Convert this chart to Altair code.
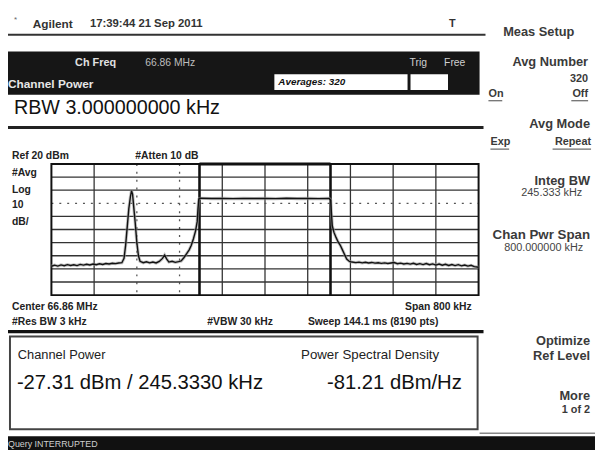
import altair as alt
import pandas as pd

# ---------------- data ----------------
FREQ_KHZ = [-400, -394, -388, -382, -376, -370, -364, -358, -352, -346, -340, -334, -328, -322,
            -316, -310, -304, -298, -292, -286, -280, -274, -268,
            -264, -261, -258, -255, -252, -250, -248, -246, -243, -240, -237, -234,
            -228, -222, -216, -210, -204, -198, -192, -188, -184, -180, -174, -168, -162, -157,
            -152, -147, -142, -138, -134, -130, -127, -125.5, -124, -123,
            -120, -100, -80, -60, -40, -20, 0, 20, 40, 60, 80, 100, 120, 123,
            124.5, 126, 129, 133, 137, 141, 145, 149, 153, 158, 163,
            170, 176, 182, 188, 194, 200, 206, 212, 218, 224, 230, 236, 242, 248, 254, 260,
            266, 272, 278, 284, 290, 296, 302, 308, 314, 320, 326, 332, 338, 344, 350, 356,
            362, 368, 374, 380, 386, 392, 400]
LEVEL_DBM = [-58.0, -57.2, -57.9, -57.0, -57.6, -56.8, -57.4, -56.9, -57.5, -56.6, -57.1, -56.5, -57.0, -56.3,
             -56.8, -56.1, -56.6, -55.9, -56.3, -55.7, -56.0, -55.5, -55.3,
             -52.0, -42.0, -28.0, -14.0, -5.0, -0.5, -3.0, -12.0, -25.0, -40.0, -50.0, -54.2,
             -55.3, -54.6, -55.4, -54.8, -55.5, -54.3, -52.0, -49.5, -52.5, -54.8, -54.2, -55.0, -54.5, -54.0,
             -51.5, -48.5, -45.5, -42.0, -37.0, -31.0, -24.0, -14.0, -7.0, -6.3,
             -6.2, -6.4, -6.3, -6.5, -6.3, -6.4, -6.3, -6.5, -6.2, -6.4, -6.3, -6.5, -6.3, -7.5,
             -18.0, -27.0, -32.0, -36.0, -39.5, -42.0, -45.5, -49.0, -52.5, -54.3, -54.8,
             -55.2, -54.9, -55.4, -55.0, -55.5, -55.1, -55.6, -55.3, -55.8, -55.4, -55.9, -55.5, -55.2, -56.1, -55.6, -56.3,
             -55.8, -56.4, -55.7, -56.6, -56.0, -56.7, -55.9, -56.8, -56.2, -57.1, -56.3, -57.2, -56.5, -57.4, -56.7, -57.5,
             -56.8, -57.7, -57.1, -57.9, -57.3, -58.3, -58.8]

SPAN_KHZ = [-400, 400]
DB_RANGE = [-80, 20]
GRID_F_SOLID = [-320, -80, 0, 80, 160, 240, 320]
GRID_F_DOTTED = [-240, -160]
GRID_DB_SOLID = [10, 0, -20, -30, -40, -50, -60, -70]
GRID_DB_DOTTED = [-10]
CHANNEL_EDGES_KHZ = [-122.67, 122.67]

HEADER = ["Agilent", "17:39:44 21 Sep 2011", "T"]
BAR_TEXT = ["Ch Freq", "66.86 MHz", "Trig", "Free", "Channel Power", "Averages: 320"]
RBW_TEXT = "RBW 3.000000000 kHz"
PLOT_LEFT_TEXT = ["Ref 20 dBm", "#Atten 10 dB", "#Avg", "Log", "10", "dB/"]
PLOT_BOTTOM_TEXT = ["Center 66.86 MHz", "Span 800 kHz", "#Res BW 3 kHz", "#VBW 30 kHz",
                    "Sweep 144.1 ms (8190 pts)"]
RESULT_TEXT = ["Channel Power", "Power Spectral Density", "-27.31 dBm / 245.3330 kHz", "-81.21 dBm/Hz"]
SOFTKEYS = ["Meas Setup", "Avg Number", "320", "On", "Off", "Avg Mode", "Exp", "Repeat",
            "Integ BW", "245.333 kHz", "Chan Pwr Span", "800.000000 kHz",
            "Optimize", "Ref Level", "More", "1 of 2"]
STATUS = "Query INTERRUPTED"

# ---------------- helpers ----------------
OFF = 8
FONT = "Liberation Sans"
one = pd.DataFrame({"k": [0]})


def P(v):
    return max(0, v - OFF)


def txt(s, x, y, size=11, weight="normal", align="left", color="#1e1e1e", style="normal"):
    return alt.Chart(one).mark_text(
        text=s, align=align, baseline="middle", fontSize=size, fontWeight=weight,
        fontStyle=style, font=FONT, color=color
    ).encode(x=alt.value(P(x)), y=alt.value(P(y)))


def box(x1, x2, y1, y2, fill="black", stroke=None, sw=0, opacity=1):
    kw = dict(fill=fill, fillOpacity=opacity)
    if stroke:
        kw.update(stroke=stroke, strokeWidth=sw)
    return alt.Chart(one).mark_rect(**kw).encode(
        x=alt.value(P(x1)), x2=alt.value(P(x2)), y=alt.value(P(y1)), y2=alt.value(P(y2)))


def hline(x1, x2, y, w=1, color="#222"):
    return alt.Chart(one).mark_rule(strokeWidth=w, color=color).encode(
        x=alt.value(P(x1)), x2=alt.value(P(x2)), y=alt.value(P(y)))


xs = alt.Scale(domain=SPAN_KHZ, range=[52 - OFF, 485 - OFF], nice=False, zero=False)
ys = alt.Scale(domain=DB_RANGE, range=[296 - OFF, 163 - OFF], nice=False, zero=False)

calc = dict(top=str(DB_RANGE[1]), bot=str(DB_RANGE[0]), lft=str(SPAN_KHZ[0]), rgt=str(SPAN_KHZ[1]))


def vgrid(vals, width, color, dash=None):
    kw = dict(strokeWidth=width, color=color)
    if dash:
        kw["strokeDash"] = dash
    return alt.Chart(pd.DataFrame({"f": vals})).transform_calculate(**calc).mark_rule(**kw).encode(
        x=alt.X("f:Q", scale=xs, axis=None),
        y=alt.Y("top:Q", scale=ys, axis=None), y2="bot:Q")


def hgrid(vals, width, color, dash=None):
    kw = dict(strokeWidth=width, color=color)
    if dash:
        kw["strokeDash"] = dash
    return alt.Chart(pd.DataFrame({"d": vals})).transform_calculate(**calc).mark_rule(**kw).encode(
        y=alt.Y("d:Q", scale=ys, axis=None),
        x=alt.X("lft:Q", scale=xs, axis=None), x2="rgt:Q")


layers = []

# header
layers += [
    txt("*", 14, 17, size=8, color="#666"),
    txt(HEADER[0], 33, 21, size=12, weight="bold", color="#333"),
    txt(HEADER[1], 91, 21, size=11.5, weight="bold", color="#333"),
    txt(HEADER[2], 455, 21, size=11, weight="bold", color="#333"),
    hline(5, 492, 32, 2, "#333"),
]

# black status bar
layers += [
    box(7, 486, 49, 93, fill="#161616"),
    box(278, 413, 72, 88, fill="white"),
    box(416, 454, 72, 88, fill="white"),
    txt(BAR_TEXT[0], 76, 61, size=11, weight="bold", color="#e0e0e0"),
    txt(BAR_TEXT[1], 147, 61, size=10.5, color="#bdbdbd"),
    txt(BAR_TEXT[2], 415, 61, size=10.5, color="#cfcfcf"),
    txt(BAR_TEXT[3], 450, 61, size=10.5, color="#cfcfcf"),
    txt(BAR_TEXT[4], 8, 82, size=12, weight="bold", color="#e6e6e6"),
    txt(BAR_TEXT[5], 282, 80, size=10, weight="bold", style="italic", color="#111"),
]

# RBW line
layers += [
    txt(RBW_TEXT, 14, 106, size=20, color="#111"),
    hline(5, 490, 126, 3, "#222"),
]

# plot grid, frame, channel box, trace
layers += [
    vgrid(GRID_F_SOLID, 1.3, "#333"),
    vgrid(GRID_F_DOTTED, 1.3, "#555", dash=[2, 6]),
    hgrid(GRID_DB_SOLID, 1.3, "#333"),
    hgrid(GRID_DB_DOTTED, 1.3, "#555", dash=[2, 6]),
    alt.Chart(one).transform_calculate(**calc).mark_rect(
        fillOpacity=0, stroke="#111", strokeWidth=2).encode(
        x=alt.X("lft:Q", scale=xs, axis=None), x2="rgt:Q",
        y=alt.Y("top:Q", scale=ys, axis=None), y2="bot:Q"),
    vgrid(CHANNEL_EDGES_KHZ, 2.6, "#111"),
    alt.Chart(pd.DataFrame({"a": [CHANNEL_EDGES_KHZ[0]], "b": [CHANNEL_EDGES_KHZ[1]]}))
    .transform_calculate(**calc).mark_rule(strokeWidth=3, color="#111").encode(
        x=alt.X("a:Q", scale=xs, axis=None), x2="b:Q",
        y=alt.Y("top:Q", scale=ys, axis=None)),
    alt.Chart(pd.DataFrame({"f": FREQ_KHZ, "dbm": LEVEL_DBM})).mark_line(
        color="#9a9a9a", strokeWidth=3.2, opacity=0.6).encode(
        x=alt.X("f:Q", scale=xs, axis=None), y=alt.Y("dbm:Q", scale=ys, axis=None)),
    alt.Chart(pd.DataFrame({"f": FREQ_KHZ, "dbm": LEVEL_DBM})).mark_line(
        color="#111", strokeWidth=1.4).encode(
        x=alt.X("f:Q", scale=xs, axis=None), y=alt.Y("dbm:Q", scale=ys, axis=None)),
]

# plot labels
lab = dict(size=10.5, weight="bold", color="#222")
layers += [
    txt(PLOT_LEFT_TEXT[0], 12, 155, **lab),
    txt(PLOT_LEFT_TEXT[1], 137, 155, **lab),
    txt(PLOT_LEFT_TEXT[2], 12, 172, **lab),
    txt(PLOT_LEFT_TEXT[3], 12, 189, **lab),
    txt(PLOT_LEFT_TEXT[4], 12, 205, **lab),
    txt(PLOT_LEFT_TEXT[5], 12, 222, **lab),
    txt(PLOT_BOTTOM_TEXT[0], 12, 308, **lab),
    txt(PLOT_BOTTOM_TEXT[1], 478, 308, align="right", size=10.5, weight="bold", color="#222"),
    txt(PLOT_BOTTOM_TEXT[2], 12, 323, **lab),
    txt(PLOT_BOTTOM_TEXT[3], 210, 323, **lab),
    txt(PLOT_BOTTOM_TEXT[4], 312, 323, **lab),
    hline(5, 490, 333, 3.5, "#111"),
]

# result box
layers += [
    box(10, 484, 338, 432, fill="white", stroke="#444", sw=2),
    txt(RESULT_TEXT[0], 18, 357, size=13, color="#222"),
    txt(RESULT_TEXT[1], 305, 357, size=13.5, color="#222"),
    txt(RESULT_TEXT[2], 17, 385, size=20.5, color="#111"),
    txt(RESULT_TEXT[3], 468, 385, size=20.5, align="right", color="#111"),
    hline(486, 603, 436, 1.5, "#888"),
    box(0, 603, 439, 453, fill="#111"),
    txt(STATUS, 5, 447, size=9, color="#cfcfcf"),
]

# softkeys
SKC = "#3a3a3a"
sk = dict(size=13, weight="bold", color=SKC, align="right")
sm = dict(size=11, weight="bold", color=SKC, align="right")
layers += [
    txt(SOFTKEYS[0], 546, 29, size=13, weight="bold", color=SKC, align="center"),
    txt(SOFTKEYS[1], 596, 60, **sk),
    txt(SOFTKEYS[2], 596, 77, **sm),
    txt(SOFTKEYS[3], 495, 92, size=11, weight="bold", color=SKC),
    hline(495, 509, 99, 1, "#444"),
    txt(SOFTKEYS[4], 596, 92, **sm),
    hline(579, 596, 99, 1, "#444"),
    txt(SOFTKEYS[5], 598, 123, **sk),
    txt(SOFTKEYS[6], 497, 141, size=11, weight="bold", color=SKC),
    hline(497, 516, 148, 1, "#444"),
    txt(SOFTKEYS[7], 599, 141, **sm),
    hline(560, 599, 148, 1, "#444"),
    txt(SOFTKEYS[8], 598, 180, **sk),
    txt(SOFTKEYS[9], 590, 193, size=11, color="#444", align="right"),
    txt(SOFTKEYS[10], 598, 235, size=13.5, weight="bold", color=SKC, align="right"),
    txt(SOFTKEYS[11], 591, 248, size=11, color="#444", align="right"),
    txt(SOFTKEYS[12], 598, 343, **sk),
    txt(SOFTKEYS[13], 598, 358, **sk),
    txt(SOFTKEYS[14], 598, 398, **sk),
    txt(SOFTKEYS[15], 598, 412, **sm),
]

chart = alt.layer(*layers).properties(
    width=595, height=445,
    autosize=alt.AutoSizeParams(type="none"),
    padding=0,
    background="white",
).configure_view(stroke=None)

chart.save("out.html", embed_options={"renderer": "svg", "actions": False})
